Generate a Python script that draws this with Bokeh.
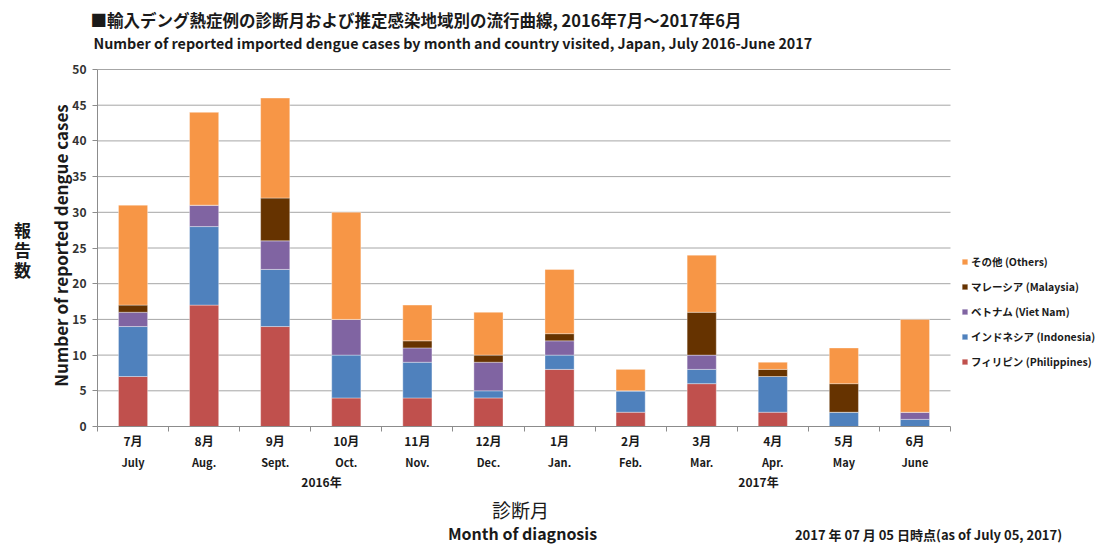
import math
from bokeh.plotting import figure
from bokeh.models import ColumnDataSource, Range1d, FixedTicker, Legend, LegendItem, Label
from bokeh.embed import file_html
from bokeh.resources import INLINE

# ---- data ----
months_jp = ["7月", "8月", "9月", "10月", "11月", "12月", "1月", "2月", "3月", "4月", "5月", "6月"]
months_en = ["July", "Aug.", "Sept.", "Oct.", "Nov.", "Dec.", "Jan.", "Feb.", "Mar.", "Apr.", "May", "June"]
philippines = [7, 17, 14, 4, 4, 4, 8, 2, 6, 2, 0, 0]
indonesia   = [7, 11, 8, 6, 5, 1, 2, 3, 2, 5, 2, 1]
vietnam     = [2, 3, 4, 5, 2, 4, 2, 0, 2, 0, 0, 1]
malaysia    = [1, 0, 6, 0, 1, 1, 1, 0, 6, 1, 4, 0]
others      = [14, 13, 14, 15, 5, 6, 9, 3, 8, 1, 5, 13]
series_names = ["philippines", "indonesia", "vietnam", "malaysia", "others"]
series_labels = ["フィリピン (Philippines)", "インドネシア (Indonesia)", "ベトナム (Viet Nam)",
                 "マレーシア (Malaysia)", "その他 (Others)"]
series_colors = ["#C0504D", "#4F81BD", "#8064A2", "#663300", "#F79646"]
y_ticks = [0, 5, 10, 15, 20, 25, 30, 35, 40, 45, 50]
y_max = 50
year_labels = ["2016年", "2017年"]

JP = "Noto Sans CJK JP"
TXT = "#1a1a1a"

W, H = 1104, 544
FL, FR, FT, FB = 97, 950, 69, 426   # plot-area edges in canvas pixels

n = len(months_jp)
ppx = (FR - FL) / n
ppy = (FB - FT) / y_max
xs = [i + 0.5 for i in range(n)]
source = ColumnDataSource(dict(x=xs, philippines=philippines, indonesia=indonesia,
                               vietnam=vietnam, malaysia=malaysia, others=others))

p = figure(width=W, height=H, output_backend="svg", toolbar_location=None, title_location=None,
           x_range=Range1d(-FL / ppx, n + (W - FR) / ppx),
           y_range=Range1d(-(H - FB) / ppy, y_max + FT / ppy),
           min_border=0, min_border_left=0, min_border_right=0, min_border_top=0, min_border_bottom=0)
p.outline_line_color = None
p.xgrid.grid_line_color = None
p.ygrid.grid_line_color = None


def dx(xp):
    return (xp - FL) / ppx


def dy(yp):
    return (FB - yp) / ppy


# gridlines (from the y tick list, bounded to the plot area)
grid_y = [t for t in y_ticks if t > 0]
p.segment(x0=[0] * len(grid_y), x1=[n] * len(grid_y), y0=grid_y, y1=grid_y,
          line_color="#a6a6a6", line_width=1)

renderers = p.vbar_stack(series_names, x="x", width=0.41, color=series_colors,
                         line_color="white", line_width=0.6, line_alpha=0.6, source=source)

# ---- axes (fixed at the data origin) ----
yax = p.yaxis[0]
yax.fixed_location = 0
yax.bounds = (0, y_max)
yax.ticker = FixedTicker(ticks=y_ticks, minor_ticks=[])
yax.major_tick_in = 0
yax.major_tick_out = 5
yax.axis_line_color = "#8c8c8c"
yax.major_tick_line_color = "#8c8c8c"
yax.major_label_text_font = JP
yax.major_label_text_font_style = "bold"
yax.major_label_text_font_size = "12px"
yax.major_label_text_color = "#333333"
yax.major_label_standoff = 6

xax = p.xaxis[0]
xax.fixed_location = 0
xax.bounds = (0, n)
xax.ticker = FixedTicker(ticks=list(range(n + 1)), minor_ticks=[])
xax.major_label_overrides = {i: "" for i in range(n + 1)}
xax.major_label_text_font_size = "1px"
xax.major_tick_in = 0
xax.major_tick_out = 5
xax.major_tick_line_color = "#8c8c8c"
xax.axis_line_color = "#8c8c8c"


def lab(text, xp, yp, size, bold=True, align="center", angle=0.0, xdata=None, color=TXT):
    x = xdata if xdata is not None else dx(xp)
    p.add_layout(Label(x=x, y=dy(yp), text=text, text_font=JP, text_font_size=f"{size}px",
                       text_font_style="bold" if bold else "normal", text_align=align,
                       text_baseline="middle", angle=angle, text_color=color))


# titles
lab("■輸入デング熱症例の診断月および推定感染地域別の流行曲線, 2016年7月～2017年6月", 90, 19, 16.5, align="left")
lab("Number of reported imported dengue cases by month and country visited, Japan,  July 2016-June 2017",
    93, 42, 14.3, align="left")

# y-axis titles
for k, ch in enumerate("報告数"):
    lab(ch, 22, 229 + k * 20, 17)
lab("Number of reported dengue cases", 60, 245, 17, angle=math.pi / 2)

# month / year labels
for i in range(n):
    lab(months_jp[i], 0, 440, 12, xdata=xs[i])
    lab(months_en[i], 0, 461, 11, xdata=xs[i])
lab(year_labels[0], 321, 481, 12)
lab(year_labels[1], 758, 481, 12)
lab("診断月", 520, 509, 19, bold=False)
lab("Month of diagnosis", 522, 532, 16)
lab("2017 年 07 月 05 日時点(as of July 05, 2017)", 928, 534, 13)

# ---- legend (top: Others ... bottom: Philippines) ----
items = [LegendItem(label=series_labels[k], renderers=[renderers[k]]) for k in reversed(range(5))]
legend = Legend(items=items, location=(961, H - 371),
                glyph_width=7, glyph_height=7, label_height=19, spacing=6, padding=0, margin=0,
                label_text_font=JP, label_text_font_style="bold", label_text_font_size="10.5px",
                label_text_color=TXT, label_standoff=3, border_line_color=None,
                background_fill_alpha=0)
p.add_layout(legend, "center")

open("out.html", "w").write(file_html(p, INLINE))
